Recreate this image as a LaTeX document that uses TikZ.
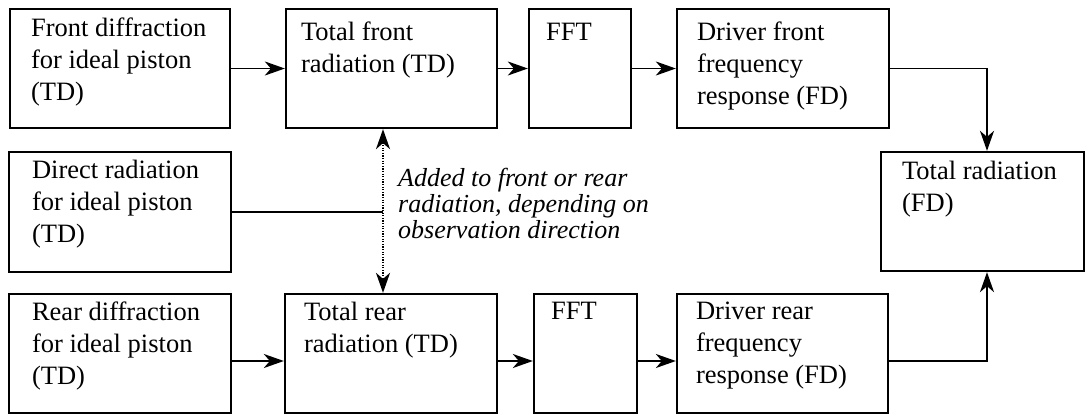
\documentclass[tikz,border=0pt]{standalone}
\usepackage{fontspec}
\setmainfont{Liberation Serif}
\usetikzlibrary{arrows.meta,calc}
\begin{document}
\begin{tikzpicture}[x=1pt,y=-1pt,
  blk/.style={draw, line width=2.3pt, inner sep=0pt},
  lbl/.style={anchor=base west, inner sep=0pt, align=left, font=\fontsize{26.5}{32}\selectfont},
  note/.style={anchor=base west, inner sep=0pt, align=left, font=\fontsize{26}{26}\selectfont\itshape},
  tip/.style={-{Stealth[length=20pt,width=14pt,inset=6pt]}},
  conn/.style={line width=1.9pt, tip},
  plain/.style={line width=1.9pt},
  dotarr/.style={line width=1.9pt, dash pattern=on 1.3pt off 1.3pt,
    {Stealth[length=20pt,width=14pt,inset=6pt]}-{Stealth[length=20pt,width=14pt,inset=6pt]}}
]
\useasboundingbox (0,0) rectangle (1086,416);
% boxes
\node[blk, minimum width=220pt, minimum height=119pt] (b1) at (120,68.5) {};
\node[blk, minimum width=211pt, minimum height=119pt] (b2) at (391.5,68.5) {};
\node[blk, minimum width=102pt, minimum height=119pt] (b3) at (580,68.5) {};
\node[blk, minimum width=212pt, minimum height=119pt] (b4) at (783,68.5) {};
\node[blk, minimum width=203pt, minimum height=119pt] (b5) at (982.5,211.5) {};
\node[blk, minimum width=222pt, minimum height=120pt] (b6) at (120,212) {};
\node[blk, minimum width=222pt, minimum height=119pt] (b7) at (120,353.5) {};
\node[blk, minimum width=212pt, minimum height=119pt] (b8) at (391,353.5) {};
\node[blk, minimum width=103pt, minimum height=119pt] (b9) at (585.5,353.5) {};
\node[blk, minimum width=211pt, minimum height=119pt] (b10) at (782.5,353.5) {};
% texts (anchor = baseline of last line)
\node[lbl] (t1) at ($(b1.north west)+(22,93)$) {Front diffraction\\for ideal piston\\(TD)};
\node[lbl] (t2) at ($(b2.north west)+(16,65)$) {Total front\\radiation (TD)};
\node[lbl] (t3) at ($(b3.north west)+(18,33)$) {FFT};
\node[lbl] (t4) at ($(b4.north west)+(21,97)$) {Driver front\\frequency\\response (FD)};
\node[lbl] (t5) at ($(b5.north west)+(22,61)$) {Total radiation\\(FD)};
\node[lbl] (t6) at ($(b6.north west)+(24,92)$) {Direct radiation\\for ideal piston\\(TD)};
\node[lbl] (t7) at ($(b7.north west)+(24,92)$) {Rear diffraction\\for ideal piston\\(TD)};
\node[lbl] (t8) at ($(b8.north west)+(20,60)$) {Total rear\\radiation (TD)};
\node[lbl] (t9) at ($(b9.north west)+(18,27)$) {FFT};
\node[lbl] (t10) at ($(b10.north west)+(20,91)$) {Driver rear\\frequency\\response (FD)};
\node[note] (n1) at (398,238) {Added to front or rear\\radiation, depending on\\observation direction};
% helper coordinates
\coordinate (dx) at (383,0);
\coordinate (rx) at (987,0);
% connectors
\draw[conn] (b1.east) -- (b2.west);
\draw[conn] (b2.east) -- (b3.west);
\draw[conn] (b3.east) -- (b4.west);
\draw[conn] (b4.east) -| (b5.north -| rx);
\draw[conn] ($(b7.east)+(0,7.5)$) -- ($(b8.west)+(0,7.5)$);
\draw[conn] ($(b8.east)+(0,7.5)$) -- ($(b9.west)+(0,7.5)$);
\draw[conn] ($(b9.east)+(0,7.5)$) -- ($(b10.west)+(0,7.5)$);
\draw[conn] ($(b10.east)+(0,7.5)$) -| (b5.south -| rx);
\draw[plain] (b6.east) -- (b6.east -| dx);
\draw[dotarr] (b2.south -| dx) -- (b8.north -| dx);
\end{tikzpicture}
\end{document}
